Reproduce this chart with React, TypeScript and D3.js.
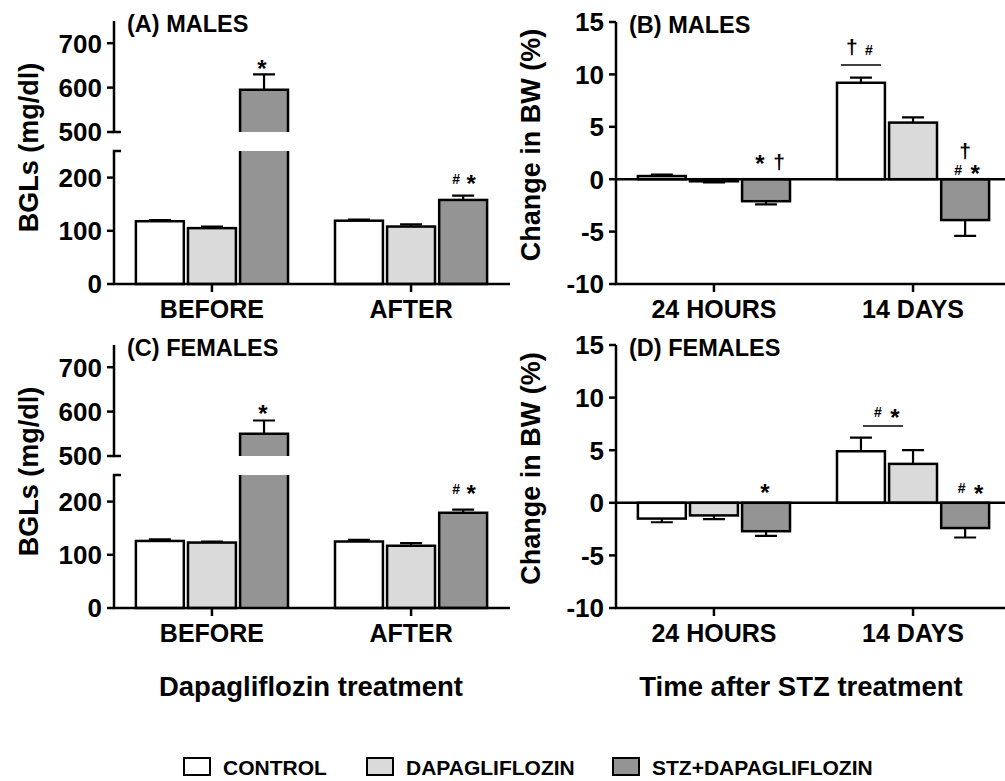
import React from "react";
import * as d3 from "d3";

const seriesNames = ["CONTROL", "DAPAGLIFLOZIN", "STZ+DAPAGLIFLOZIN"];
const seriesFill = ["#ffffff", "#dadada", "#949494"];

const bglCategories = ["BEFORE", "AFTER"];
const bwCategories = ["24 HOURS", "14 DAYS"];

// one row per series (control, dapagliflozin, stz+dapagliflozin), one value per category
const bglMalesMean = [[118, 119], [105, 108], [595, 158]];
const bglMalesSem = [[2, 2], [3, 4], [35, 8]];
const bglFemalesMean = [[126, 125], [123, 117], [550, 179]];
const bglFemalesSem = [[3, 3], [2, 5], [30, 6]];
const bwMalesMean = [[0.3, 9.2], [-0.2, 5.4], [-2.1, -3.9]];
const bwMalesSem = [[0.15, 0.5], [0.1, 0.5], [0.3, 1.5]];
const bwFemalesMean = [[-1.5, 4.9], [-1.2, 3.7], [-2.7, -2.4]];
const bwFemalesSem = [[0.35, 1.3], [0.35, 1.3], [0.45, 0.9]];

const bglLowTicks = [0, 100, 200];
const bglHighTicks = [500, 600, 700];
const bwTicks = [-10, -5, 0, 5, 10, 15];

// significance marks: cat / series index, symbol (or a bracket line), offset from the bar tip
type Note = { cat: number; ser: number; text?: string; dx: number; dy: number; dx2?: number };
const notesA: Note[] = [
  { cat: 0, ser: 2, text: "*", dx: -2, dy: 2.5 },
  { cat: 1, ser: 2, text: "#", dx: -7, dy: -12 },
  { cat: 1, ser: 2, text: "*", dx: 8, dy: -4 },
];
const notesC: Note[] = [
  { cat: 0, ser: 2, text: "*", dx: -1, dy: 1.5 },
  { cat: 1, ser: 2, text: "#", dx: -7, dy: -16 },
  { cat: 1, ser: 2, text: "*", dx: 8, dy: -8 },
];
const notesB: Note[] = [
  { cat: 0, ser: 2, text: "*", dx: -6, dy: -7 },
  { cat: 0, ser: 2, text: "\u2020", dx: 13, dy: -10 },
  { cat: 1, ser: 0, dx: -20, dx2: 20, dy: -12.5 },
  { cat: 1, ser: 0, text: "\u2020", dx: -9, dy: -23.5 },
  { cat: 1, ser: 0, text: "#", dx: 8, dy: -23 },
  { cat: 1, ser: 2, text: "\u2020", dx: 0, dy: -21 },
  { cat: 1, ser: 2, text: "#", dx: -7, dy: -4 },
  { cat: 1, ser: 2, text: "*", dx: 10, dy: 3 },
];
const notesD: Note[] = [
  { cat: 0, ser: 2, text: "*", dx: -1, dy: -1.5 },
  { cat: 1, ser: 0, dx: 2, dx2: 42, dy: -11.5 },
  { cat: 1, ser: 0, text: "#", dx: 17, dy: -20.7 },
  { cat: 1, ser: 0, text: "*", dx: 34, dy: -12 },
  { cat: 1, ser: 2, text: "#", dx: -3.5, dy: -9.5 },
  { cat: 1, ser: 2, text: "*", dx: 13.5, dy: -0.5 },
];

const FONT = "'Liberation Sans', Arial, Helvetica, sans-serif";
const SW = 2.5;

type PanelDef = {
  title: string;
  kind: "bgl" | "bw";
  axisX: number;
  top: number;
  bottom: number;
  cats: string[];
  mean: number[][];
  sem: number[][];
  notes: Note[];
  yLabel: string;
};

const panels: PanelDef[] = [
  { title: "(A) MALES", kind: "bgl", axisX: 114, top: 21, bottom: 284, cats: bglCategories, mean: bglMalesMean, sem: bglMalesSem, notes: notesA, yLabel: "BGLs (mg/dl)" },
  { title: "(B) MALES", kind: "bw", axisX: 616, top: 22, bottom: 284, cats: bwCategories, mean: bwMalesMean, sem: bwMalesSem, notes: notesB, yLabel: "Change in BW (%)" },
  { title: "(C) FEMALES", kind: "bgl", axisX: 114, top: 345, bottom: 608, cats: bglCategories, mean: bglFemalesMean, sem: bglFemalesSem, notes: notesC, yLabel: "BGLs (mg/dl)" },
  { title: "(D) FEMALES", kind: "bw", axisX: 616, top: 345, bottom: 608, cats: bwCategories, mean: bwFemalesMean, sem: bwFemalesSem, notes: notesD, yLabel: "Change in BW (%)" },
];

function symbolSize(t: string) {
  if (t === "#") return 14;
  if (t === "*") return 24;
  return 21;
}

function Panel({ p }: { p: PanelDef }) {
  const x0 = d3
    .scaleBand<string>()
    .domain(p.cats)
    .range([p.axisX - 2, p.axisX + 397])
    .paddingInner(0.236)
    .paddingOuter(0.12);
  const x1 = d3.scaleBand<string>().domain(seriesNames).range([0, x0.bandwidth()]).paddingInner(0.08);
  const bw = x1.bandwidth();

  const breakHi = p.top + 111;
  const breakLo = p.top + 130;
  const yLow = d3.scaleLinear().domain([0, 250]).range([p.bottom, breakLo]);
  const yHigh = d3.scaleLinear().domain([500, 750]).range([breakHi, p.top]);
  const yBw = d3.scaleLinear().domain([-10, 15]).range([p.bottom, p.top]);
  const y = (v: number) => (p.kind === "bw" ? yBw(v) : v > 375 ? yHigh(v) : yLow(v));
  const y0 = y(0);
  const axisEnd = p.axisX + 396;
  const baseY = p.kind === "bw" ? yBw(-10) : y0;

  const bars: React.ReactNode[] = [];
  const errs: React.ReactNode[] = [];
  p.cats.forEach((cat, ci) => {
    seriesNames.forEach((ser, si) => {
      const v = p.mean[si][ci];
      const s = p.sem[si][ci];
      const bx = (x0(cat) ?? 0) + (x1(ser) ?? 0);
      const cx = bx + bw / 2;
      const key = `${ci}-${si}`;
      if (p.kind === "bgl" && v > 250) {
        const yt = yHigh(v);
        bars.push(
          <g key={key}>
            <rect x={bx} y={breakLo} width={bw} height={y0 - breakLo} fill={seriesFill[si]} />
            <rect x={bx} y={yt} width={bw} height={breakHi - yt} fill={seriesFill[si]} />
            <path
              d={`M${bx},${y0}V${breakLo}M${bx + bw},${breakLo}V${y0}M${bx},${breakHi}V${yt}H${bx + bw}V${breakHi}`}
              fill="none"
              stroke="#000"
              strokeWidth={SW}
            />
          </g>
        );
      } else {
        const yv = y(v);
        bars.push(
          <rect
            key={key}
            x={bx}
            y={Math.min(yv, y0)}
            width={bw}
            height={Math.max(Math.abs(yv - y0), 1)}
            fill={seriesFill[si]}
            stroke="#000"
            strokeWidth={SW}
          />
        );
      }
      const tip = v >= 0 ? v + s : v - s;
      errs.push(
        <path
          key={"e" + key}
          d={`M${cx},${y(v)}V${y(tip)}M${cx - 11},${y(tip)}H${cx + 11}`}
          stroke="#000"
          strokeWidth={2.2}
          fill="none"
        />
      );
    });
  });

  const notes = p.notes.map((n, i) => {
    const v = p.mean[n.ser][n.cat];
    const s = p.sem[n.ser][n.cat];
    const cx = (x0(p.cats[n.cat]) ?? 0) + (x1(seriesNames[n.ser]) ?? 0) + bw / 2;
    const ay = v >= 0 ? y(v + s) : y0;
    if (!n.text) {
      return <line key={i} x1={cx + n.dx} x2={cx + (n.dx2 ?? 0)} y1={ay + n.dy} y2={ay + n.dy} stroke="#000" strokeWidth={1.5} />;
    }
    return (
      <text key={i} x={cx + n.dx} y={ay + n.dy} textAnchor="middle" fontSize={symbolSize(n.text)} fontWeight="bold">
        {n.text}
      </text>
    );
  });

  const tickList = p.kind === "bw" ? bwTicks : [...bglHighTicks, ...bglLowTicks];
  const mid = (p.top + p.bottom) / 2 - (p.kind === "bw" ? 8 : 5);

  return (
    <g fontFamily={FONT}>
      {bars}
      {errs}
      {/* y axis */}
      {p.kind === "bgl" ? (
        <path
          d={`M${p.axisX},${p.top}V${breakHi}H${p.axisX + 7}M${p.axisX + 7},${breakLo}H${p.axisX}V${p.bottom}`}
          stroke="#000"
          strokeWidth={SW}
          fill="none"
        />
      ) : (
        <line x1={p.axisX} x2={p.axisX} y1={p.top} y2={p.bottom} stroke="#000" strokeWidth={SW} />
      )}
      {tickList.map((t) => (
        <g key={t}>
          <line x1={p.axisX - 7} x2={p.axisX} y1={y(t)} y2={y(t)} stroke="#000" strokeWidth={SW} />
          <text x={p.axisX - 12} y={y(t) + 9.3} textAnchor="end" fontSize={26} fontWeight="bold">
            {t}
          </text>
        </g>
      ))}
      {/* x axis */}
      <line x1={p.axisX - 1} x2={axisEnd} y1={y0} y2={y0} stroke="#000" strokeWidth={SW} />
      {p.kind === "bw" && <line x1={p.axisX - 1} x2={axisEnd} y1={baseY} y2={baseY} stroke="#000" strokeWidth={SW} />}
      {p.cats.map((c) => {
        const cx = (x0(c) ?? 0) + x0.bandwidth() / 2;
        return (
          <g key={c}>
            <line x1={cx} x2={cx} y1={baseY} y2={baseY + 8} stroke="#000" strokeWidth={SW} />
            <text x={cx} y={baseY + 34} textAnchor="middle" fontSize={25} fontWeight="bold">
              {c}
            </text>
          </g>
        );
      })}
      {notes}
      <text x={p.axisX + 13} y={p.top + 11} fontSize={23.5} fontWeight="bold">
        {p.title}
      </text>
      <text
        transform={`translate(${p.axisX - 76},${mid}) rotate(-90)`}
        textAnchor="middle"
        fontSize={27}
        fontWeight="bold"
      >
        {p.yLabel}
      </text>
    </g>
  );
}

const legendX = [184, 367, 613];

export default function App() {
  return (
    <svg
      width={1005}
      height={781}
      style={{ position: "absolute", left: 0, top: 0, background: "#fff" }}
    >
      <rect width={1005} height={781} fill="#fff" />
      {panels.map((p) => (
        <Panel key={p.title} p={p} />
      ))}
      <g fontFamily={FONT} fontWeight="bold">
        <text x={311} y={696} textAnchor="middle" fontSize={27.5}>
          Dapagliflozin treatment
        </text>
        <text x={801} y={696} textAnchor="middle" fontSize={27.5}>
          Time after STZ treatment
        </text>
        {seriesNames.map((s, i) => (
          <g key={s}>
            <rect x={legendX[i]} y={758} width={26} height={17} fill={seriesFill[i]} stroke="#000" strokeWidth={2} />
            <text x={legendX[i] + 39} y={775} fontSize={21}>
              {s}
            </text>
          </g>
        ))}
      </g>
    </svg>
  );
}
